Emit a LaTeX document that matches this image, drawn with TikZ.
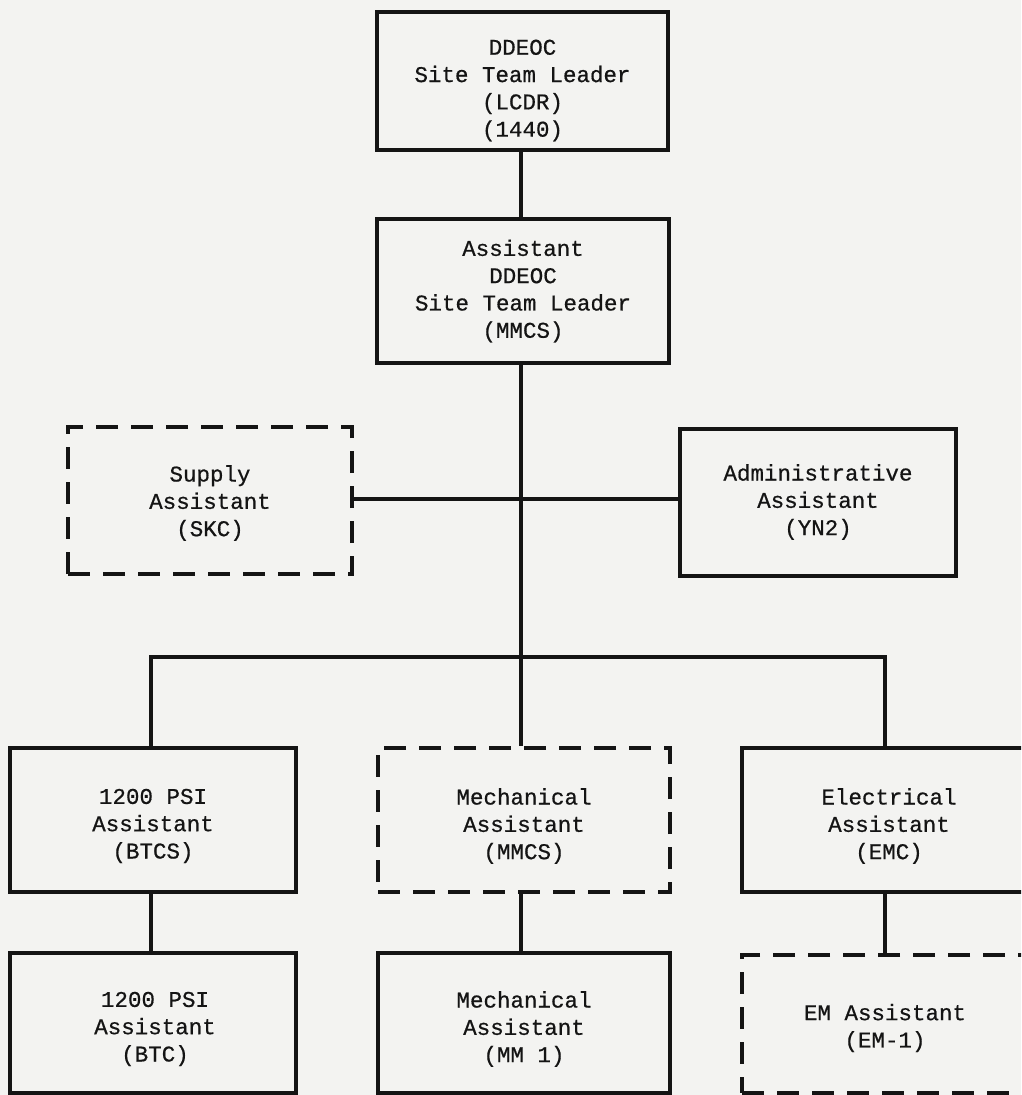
\documentclass[tikz,border=0pt]{standalone}
\usepackage{fontspec}
\setmonofont{Liberation Mono}[AutoFakeBold=0.6]
\definecolor{bgc}{RGB}{243,243,241}
\definecolor{ink}{RGB}{20,20,20}
\begin{document}
\begin{tikzpicture}[x=1pt,y=-1pt,
  box/.style={draw=ink, line width=3.5pt, rectangle, inner sep=0pt},
  dbox/.style={box, dash pattern=on 22pt off 13pt},
  txt/.style={inner sep=0pt, align=center, text=ink,
    font=\ttfamily\bfseries\fontsize{22.5}{27.3}\selectfont},
  link/.style={draw=ink, line width=3.5pt}]
\useasboundingbox (0,0) rectangle (1021,1095);
\clip (0,0) rectangle (1021,1095);
\fill[bgc] (0,0) rectangle (1021,1095);

% boxes
\node[box, minimum width=291pt, minimum height=138pt] (top) at (522.5,81) {};
\node[box, minimum width=292pt, minimum height=144pt] (asst) at (523,291) {};
\node[dbox, minimum width=284pt, minimum height=147pt] (supply) at (210,500.5) {};
\node[box, minimum width=276pt, minimum height=147pt] (admin) at (818,502.5) {};
\node[box, minimum width=286pt, minimum height=144pt] (psi1) at (153,820) {};
\node[dbox, minimum width=292pt, minimum height=144pt] (mech1) at (524,820) {};
\node[box, minimum width=290pt, minimum height=144pt] (elec) at (887,820) {};
\node[box, minimum width=286pt, minimum height=140pt] (psi2) at (153,1023) {};
\node[box, minimum width=292pt, minimum height=140pt] (mech2) at (524,1023) {};
\node[dbox, minimum width=290pt, minimum height=138pt] (em) at (887,1024) {};

% texts
\node[txt] (topT) at (522.5,90.5) {DDEOC\\Site Team Leader\\(LCDR)\\(1440)};
\node[txt] (asstT) at (523,291) {Assistant\\DDEOC\\Site Team Leader\\(MMCS)};
\node[txt] (supplyT) at (210,503) {Supply\\Assistant\\(SKC)};
\node[txt] (adminT) at (818,502) {Administrative\\Assistant\\(YN2)};
\node[txt] (psi1T) at (153,826) {1200 PSI\\Assistant\\(BTCS)};
\node[txt] (mech1T) at (524,826) {Mechanical\\Assistant\\(MMCS)};
\node[txt] (elecT) at (889,826) {Electrical\\Assistant\\(EMC)};
\node[txt] (psi2T) at (155,1029) {1200 PSI\\Assistant\\(BTC)};
\node[txt] (mech2T) at (524,1029) {Mechanical\\Assistant\\(MM 1)};
\node[txt] (emT) at (885,1028) {EM Assistant\\(EM-1)};

% connectors
\coordinate (bus) at (521,657);
\draw[link] (top.south -| bus) -- (asst.north -| bus);
\draw[link] (asst.south -| bus) -- (mech1.north -| bus);
\draw[link] (supply.east |- 0,499) -- (admin.west |- 0,499);
\draw[link] (psi1.north -| 151,0) |- (bus) -| (elec.north -| 885,0);
\draw[link] (psi1.south -| 151,0) -- (psi2.north -| 151,0);
\draw[link] (mech1.south -| bus) -- (mech2.north -| bus);
\draw[link] (elec.south -| 885,0) -- (em.north -| 885,0);
\end{tikzpicture}
\end{document}
